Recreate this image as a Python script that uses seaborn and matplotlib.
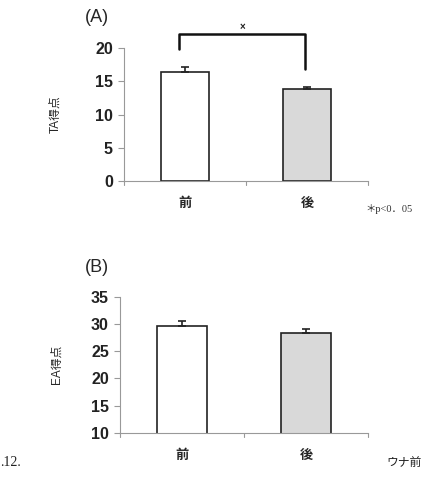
import matplotlib
matplotlib.use("Agg")
import matplotlib.pyplot as plt
import seaborn as sns
import numpy as np

sns.set_theme(style="white")
plt.rcParams['font.family'] = ['Liberation Sans', 'Noto Sans CJK JP', 'DejaVu Sans']

categories = ["前", "後"]
ta_means = [16.4, 13.9]
ta_errs = [0.75, 0.3]
ea_means = [29.7, 28.4]
ea_errs = [0.8, 0.65]
ta_ticks = [0, 5, 10, 15, 20]
ea_ticks = [10, 15, 20, 25, 30, 35]
bar_colors = ["#ffffff", "#d9d9d9"]

fig = plt.figure(figsize=(4.24, 4.90), dpi=100)
axA = fig.add_axes([0.2925, 0.6306, 0.5755, 0.2714])
axB = fig.add_axes([0.283, 0.117, 0.585, 0.277])

def draw(ax, means, errs, ticks, ylabel, lpad):
    sns.barplot(x=categories, y=means, hue=categories, palette=bar_colors,
                legend=False, width=0.4, edgecolor="#222222", linewidth=1.2, ax=ax)
    ax.errorbar([0, 1], means, yerr=[[0, 0], errs], fmt="none",
                ecolor="#222222", elinewidth=1.2, capsize=3, capthick=1.2)
    ax.set_xlim(-0.5, 1.5)
    ax.set_ylim(ticks[0], ticks[-1])
    ax.set_yticks(ticks)
    ax.set_yticklabels([str(t) for t in ticks], fontsize=11.5, fontweight="bold",
                       color="#222222")
    ax.set_xticks([0, 1])
    ax.set_xticklabels(categories, fontsize=9.5, fontweight="bold",
                       family=["Noto Sans CJK JP"])
    ax.tick_params(axis="x", length=0, pad=11)
    ax.tick_params(axis="y", length=4, width=0.8, color="#999999", left=True, pad=4)
    for t in [-0.5, 0.5, 1.5]:
        ax.plot([t, t], [0, -0.03], transform=ax.get_xaxis_transform(),
                color="#999999", lw=0.8, clip_on=False)
    for s in ["top", "right"]:
        ax.spines[s].set_visible(False)
    for s in ["left", "bottom"]:
        ax.spines[s].set_color("#999999")
        ax.spines[s].set_linewidth(0.8)
    ax.set_ylabel(ylabel, fontsize=8.5, family=["Liberation Sans", "Noto Sans CJK JP"],
                  labelpad=lpad)
    ax.set_xlabel("")

draw(axA, ta_means, ta_errs, ta_ticks, "TA得点", 24)
draw(axB, ea_means, ea_errs, ea_ticks, "EA得点", 20)

# significance bracket
axA.plot([-0.05, -0.05, 0.98, 0.98], [19.8, 22.1, 22.1, 16.8], color="#111111",
         lw=1.8, clip_on=False)
axA.text(0.47, 23.2, "×", ha="center", va="center", fontsize=7, color="#222222",
         fontweight="bold")

fig.text(85/424, 1-17/490, "(A)", fontsize=13, ha="left", va="center",
         family=["Liberation Sans"])
fig.text(85/424, 1-268/490, "(B)", fontsize=13, ha="left", va="center",
         family=["Liberation Sans"])
fig.text(365/424, 1-209/490, "＊p<0．05", fontsize=7.5, ha="left", va="center",
         family=["Liberation Serif", "Noto Sans CJK JP"], color="#333333")
fig.text(0, 1-462/490, ".12.", fontsize=10, ha="left", va="center",
         family=["Liberation Serif"], color="#222222")
fig.text(386/424, 1-462/490, "ウナ前", fontsize=8.5, ha="left", va="center",
         family=["Noto Sans CJK JP"], color="#222222")

fig.savefig("out.png", dpi=100)
